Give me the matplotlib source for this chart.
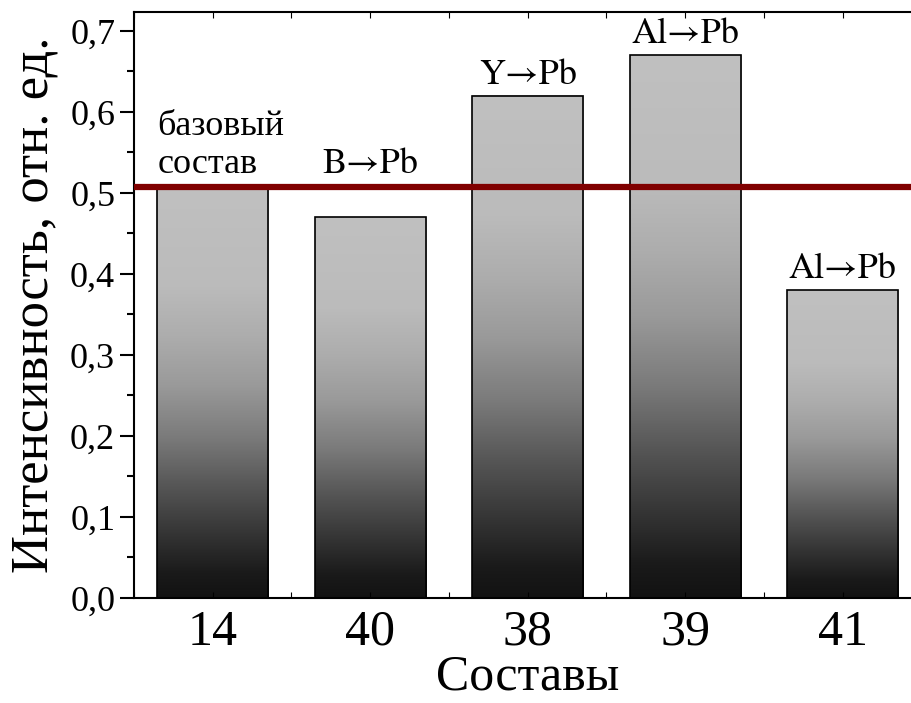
import numpy as np
import matplotlib
matplotlib.use('Agg')
import matplotlib.pyplot as plt
from matplotlib.colors import LinearSegmentedColormap
from matplotlib.ticker import MultipleLocator, FuncFormatter

# данные
samples = ['14', '40', '38', '39', '41']
intensity = [0.505, 0.47, 0.62, 0.67, 0.38]
labels = ['базовый\nсостав', 'B→Pb', 'Y→Pb', 'Al→Pb', 'Al→Pb']
label_y = [0.515, 0.515, 0.625, 0.675, 0.385]
base_level = 0.508

plt.rcParams['font.family'] = ['Liberation Serif', 'DejaVu Serif']

fig = plt.figure(figsize=(9.11, 7.03), dpi=100)
ax = fig.add_axes([0.147, 0.1494, 0.8645, 0.8336])

x = np.arange(len(samples))
width = 0.705
# градиент: светлый сверху, тёмный снизу
cmap = LinearSegmentedColormap.from_list('grad', [
    (0.0, '#121212'), (0.06, '#1a1a1a'), (0.15, '#333333'), (0.27, '#555555'),
    (0.39, '#7a7a7a'), (0.52, '#9a9a9a'), (0.64, '#adadad'), (0.76, '#bbbbbb'),
    (1.0, '#c0c0c0')])
grad = np.linspace(0, 1, 256).reshape(-1, 1)

for xi, h in zip(x, intensity):
    ax.imshow(grad, cmap=cmap, aspect='auto', origin='lower',
              extent=[xi - width / 2, xi + width / 2, 0, h], zorder=1)
ax.bar(x, intensity, width=width, facecolor='none', edgecolor='black',
       linewidth=1.2, zorder=2)

ax.axhline(base_level, color='#800000', linewidth=4.5, zorder=3)

for xi, lab, ly in zip(x, labels, label_y):
    if '\n' in lab:
        ax.text(xi - width / 2, ly, lab, ha='left', va='bottom', fontsize=26,
                linespacing=1.2)
    else:
        ax.text(xi, ly, lab, ha='center', va='bottom', fontsize=26,
                family=['STIXGeneral', 'DejaVu Serif'])

ax.set_xlim(-0.5, 4.5)
ax.set_ylim(0, 0.7235)

ax.set_xticks(x)
ax.set_xticklabels(samples)
ax.xaxis.set_minor_locator(MultipleLocator(1, offset=0.5))
ax.tick_params(axis='x', which='both', direction='in', top=True, length=4,
               width=0.8, labelsize=36, pad=8)
ax.yaxis.set_major_locator(MultipleLocator(0.1))
ax.yaxis.set_minor_locator(MultipleLocator(0.05))
ax.yaxis.set_major_formatter(FuncFormatter(lambda v, p: f'{v:.1f}'.replace('.', ',')))
ax.tick_params(axis='y', which='major', direction='out', length=10, width=1.5,
               labelsize=26)
ax.tick_params(axis='y', which='minor', direction='out', length=5, width=1.5)

for s in ax.spines.values():
    s.set_linewidth(1.5)

ax.set_xlabel('Составы', fontsize=36, labelpad=-1)
ax.set_ylabel('Интенсивность, отн. ед.', fontsize=38, labelpad=8)

fig.savefig('out.png', dpi=100)
